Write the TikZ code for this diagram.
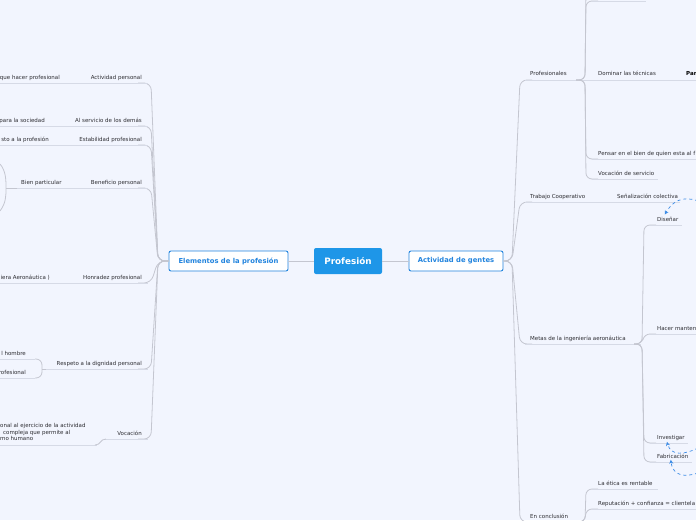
\documentclass[tikz,border=0pt]{standalone}
\usepackage{fontspec}
\setmainfont{DejaVu Sans}
\usetikzlibrary{arrows.meta}
\definecolor{bg}{RGB}{242,245,254}
\definecolor{conn}{RGB}{196,198,208}
\definecolor{uline}{RGB}{214,218,230}
\definecolor{boxblue}{RGB}{34,132,222}
\definecolor{centerblue}{RGB}{30,150,232}
\definecolor{txt}{RGB}{45,45,50}
\definecolor{dashblue}{RGB}{60,140,230}
\tikzset{
 lbl/.style={font=\fontsize{5.5}{6.5}\selectfont, text=txt, inner sep=0pt},
 boldlbl/.style={font=\bfseries\fontsize{5.5}{6.5}\selectfont, text=black, inner sep=0pt},
 connector/.style={draw=conn, line width=0.8pt, rounded corners=7pt},
 underl/.style={draw=uline, line width=1pt},
 mainbox/.style={draw=boxblue, line width=0.9pt, fill=white, rounded corners=2pt, text=boxblue, font=\bfseries\fontsize{6.8}{8}\selectfont, minimum height=20pt, inner sep=0pt},
 centerbox/.style={fill=centerblue, rounded corners=2pt, text=white, font=\bfseries\fontsize{8.8}{10}\selectfont, minimum width=68pt, minimum height=26pt, inner sep=0pt},
 rel/.style={draw=dashblue, dashed, line width=0.7pt, -{Stealth[length=4pt,width=4pt]}},
}
\begin{document}
\begin{tikzpicture}[x=1pt,y=-1pt]
\useasboundingbox (0,0) rectangle (696,520);
\clip (0,0) rectangle (696,520);
\fill[bg] (0,0) rectangle (696,520);

% ---------- central nodes ----------
\node[centerbox] (P) at (348,261) {Profesión};
\node[mainbox, minimum width=119pt] (E) at (228.5,261) {Elementos de la profesión};
\node[mainbox, minimum width=94pt] (A) at (456,261) {Actividad de gentes};
\draw[connector] (E) -- (P);
\draw[connector] (P) -- (A);

% ---------- left branches ----------
\node[lbl, anchor=base east] (ap) at (142,79) {Actividad personal};
\node[lbl, anchor=base east] (as) at (142,122) {Al servicio de los demás};
\node[lbl, anchor=base east] (ep) at (142,141) {Estabilidad profesional};
\node[lbl, anchor=base east] (bp) at (142,184) {Beneficio personal};
\node[lbl, anchor=base east] (hp) at (142,279) {Honradez profesional};
\node[lbl, anchor=base east] (rd) at (142,365) {Respeto a la dignidad personal};
\node[lbl, anchor=base east] (vo) at (142,435) {Vocación};

\foreach \y in {83,126,145,188,283,369,439}{
  \draw[connector] (E.west) -- (158,261) -- (151,\y) -- (138,\y);
}

% left children
\node[lbl, anchor=base east] (apc) at (60,79) {que hacer profesional};
\node[lbl, anchor=base east] (asc) at (45,122) {para la sociedad};
\node[lbl, anchor=base east] (epc) at (49,141) {sto a la profesión};
\node[lbl, anchor=base west] (bpc) at (21,184) {Bien particular};
\node[lbl, anchor=base east] (hpc) at (50,279) {iera Aeronáutica )};
\node[lbl, anchor=base east] (rdc1) at (26,355) {l hombre};
\node[lbl, anchor=base east] (rdc2) at (26,374) {rofesional};
\node[lbl, anchor=north west, align=left] (voc) at (0,423.2)
  {onal al ejercicio de la actividad\\\hspace*{3pt}compleja que permite al\\mo humano};

\draw[underl] (0,83) -- (148,83);
\draw[underl] (0,126) -- (148,126);
\draw[underl] (0,145) -- (148,145);
\draw[underl] (17,188) -- (148,188);
\draw[underl] (0,283) -- (148,283);
\draw[underl] (44,369) -- (148,369);
\draw[underl] (0,359) -- (35,359);
\draw[underl] (0,378) -- (35,378);
\draw[underl] (105,439) -- (148,439);
\draw[underl] (0,445) -- (97,445);

% brackets of left children
\draw[connector] (17,188) -- (6,188);
\draw[conn, line width=0.8pt] (0,164) .. controls (6,171) and (6,180) .. (6,188)
   .. controls (6,196) and (6,203) .. (0,211);
\draw[connector, rounded corners=6pt] (35,359) -- (42,359) -- (42,378) -- (35,378);
\draw[connector] (42,369) -- (46,369);
\draw[conn, line width=0.8pt] (95,445) .. controls (101,445) and (100,439) .. (106,439);

% ---------- right branches ----------
\node[lbl, anchor=base west] (pr) at (530,75.5) {Profesionales};
\node[lbl, anchor=base west] (tc) at (530,198) {Trabajo Cooperativo};
\node[lbl, anchor=base west] (mi) at (530,340) {Metas de la ingeniería aeronáutica};
\node[lbl, anchor=base west] (ec) at (530,518) {En conclusión};

\foreach \y in {80,202,344,522}{
  \draw[connector] (A.east) -- (512,261) -- (520,\y) -- (532,\y);
}
\draw[underl] (525,80) -- (583,80);
\draw[underl] (525,202) -- (590,202);
\draw[underl] (525,344) -- (641,344);
\draw[underl] (525,522) -- (580,522);

% Profesionales children
\node[lbl, anchor=base west] (dt) at (598,75.5) {Dominar las técnicas};
\node[boldlbl, anchor=base west] (par) at (686,75.5) {Par};
\node[lbl, anchor=base west] (pb) at (598,155) {Pensar en el bien de quien esta al f};
\node[lbl, anchor=base west] (vs) at (598,175) {Vocación de servicio};
\foreach \y in {-14,1,159,179}{
  \draw[connector, rounded corners=6pt] (576,80) -- (585,80) -- (586,\y) -- (598,\y);
}
\draw[underl] (592,1) -- (646,1);
\draw[underl] (583,80) -- (696,80);
\draw[underl] (592,159) -- (696,159);
\draw[underl] (592,179) -- (658,179);

% Trabajo Cooperativo child
\node[lbl, anchor=base west] (sc) at (617,198) {Señalización colectiva};
\draw[underl] (590,202) -- (680,202);

% Metas children
\node[lbl, anchor=base west] (dis) at (657,221) {Diseñar};
\node[lbl, anchor=base west] (hm) at (657,330) {Hacer manten};
\node[lbl, anchor=base west] (inv) at (657,439) {Investigar};
\node[lbl, anchor=base west] (fab) at (657,458) {Fabricación};
\foreach \y in {225,334,443,462}{
  \draw[connector, rounded corners=6pt] (634,344) -- (642,344) -- (644,\y) -- (656,\y);
}
\draw[underl] (650,225) -- (682,225);
\draw[underl] (650,334) -- (696,334);
\draw[underl] (650,443) -- (688,443);
\draw[underl] (650,462) -- (692,462);

% En conclusion children
\node[lbl, anchor=base west] (er) at (598,485) {La ética es rentable};
\node[lbl, anchor=base west] (rc) at (598,505) {Reputación + confianza = clientela};
\foreach \y in {489,509,545}{
  \draw[connector, rounded corners=6pt] (574,522) -- (585,522) -- (586,\y) -- (598,\y);
}
\draw[underl] (592,489) -- (658,489);
\draw[underl] (592,509) -- (696,509);

% ---------- dashed relations ----------
\coordinate (r1) at (698,201);
\coordinate (r2) at (698,448);
\coordinate (r3) at (698,473);
\draw[rel] (r1) .. controls (682,195) and (672,202) .. ([xshift=-3pt,yshift=2pt]dis.north);
\draw[rel] (r2) .. controls (684,455) and (671,456) .. ([xshift=-4pt,yshift=-1.5pt]inv.south);
\draw[rel] (r3) .. controls (686,477) and (673,477) .. ([xshift=-2pt,yshift=-1.5pt]fab.south);
\end{tikzpicture}
\end{document}
